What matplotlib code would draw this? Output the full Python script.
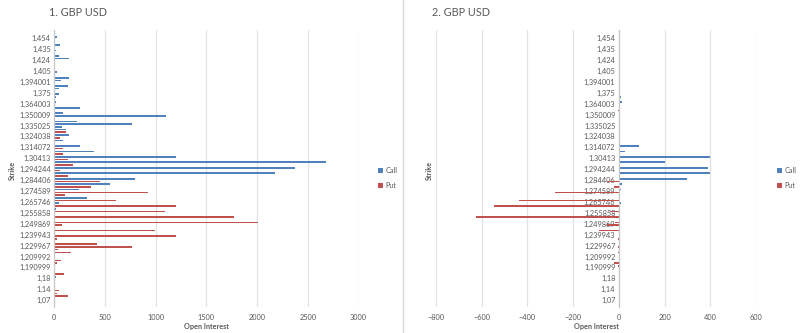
import matplotlib
matplotlib.use('Agg')
import matplotlib.pyplot as plt
from matplotlib.lines import Line2D
import numpy as np

plt.rcParams['font.family'] = ['Lato', 'DejaVu Sans']

# strike labels shown on the category axis (one per group of 4 rows)
strikes = ['1,454', '1,435', '1,424', '1,405', '1,394001', '1,375', '1,364003',
           '1,350009', '1,335025', '1,324038', '1,314072', '1,30413', '1,294244',
           '1,284406', '1,274589', '1,265746', '1,255858', '1,249869', '1,239943',
           '1,229967', '1,209992', '1,190999', '1,18', '1,14', '1,07']

# open interest per row, top to bottom (100 rows)
call_oi = [0, 23, 0, 8, 56, 0, 15, 0, 50, 148,
           5, 0, 0, 0, 23, 0, 148, 63, 0, 135,
           43, 0, 43, 13, 0, 13, 0, 253, 0, 82,
           1100, 0, 220, 763, 72, 112, 0, 142, 0, 88,
           0, 253, 0, 391, 0, 1200, 0, 2680, 0, 2377,
           0, 2180, 0, 793, 0, 548, 0, 243, 0, 0,
           320, 0, 44, 0, 13, 0, 8, 0, 5, 0,
           0, 5, 0, 5, 0, 0, 0, 0, 0, 0,
           0, 5, 0, 0, 0, 0, 5, 0, 0, 13,
           0, 5, 0, 0, 0, 0, 0, 0, 5, 0]
put_oi = [10, 0, 5, 0, 0, 0, 0, 8, 0, 0,
          0, 0, 5, 0, 0, 5, 0, 0, 0, 0,
          0, 0, 0, 0, 5, 0, 5, 0, 5, 0,
          0, 0, 0, 0, 0, 0, 117, 0, 56, 0,
          3, 0, 89, 0, 82, 0, 133, 0, 181, 0,
          59, 0, 133, 0, 450, 0, 360, 0, 925, 105,
          0, 613, 0, 1205, 0, 1095, 0, 1770, 0, 2011,
          75, 0, 998, 0, 1203, 23, 0, 417, 769, 40,
          165, 0, 0, 63, 23, 0, 0, 0, 100, 0,
          0, 0, 5, 0, 50, 23, 138, 5, 0, 0]

# change in open interest per row (second chart)
call_chg = [0, 0, 0, 0, 0, 0, 0, 0, 0, 0,
            0, 0, 0, 0, 0, 0, 0, 0, 0, 0,
            0, 0, 0, 8, 0, 12, 0, 0, 0, 0,
            0, 0, 0, 5, 0, 0, 0, 0, 0, 0,
            0, 89, 0, 26, 0, 400, 0, 200, 0, 390,
            0, 400, 0, 300, 0, 14, 0, 8, 0, 0,
            3, 0, 8, 0, 0, 0, 0, 0, 0, 0,
            0, 0, 0, 3, 0, 0, 0, 0, 0, 0,
            0, 0, 0, 0, 0, 0, 0, 0, 0, 0,
            0, 0, 0, 0, 0, 0, 0, 0, 0, 0]
put_chg = [0, 0, 0, 0, 0, 0, 0, 0, 0, 0,
           0, 0, 0, 0, 0, 0, 0, 0, 0, 0,
           0, 0, 0, 0, 0, 0, 0, 0, -3, 0,
           0, 0, 0, 0, 0, 0, 0, 0, 0, 0,
           0, 0, 0, 0, 0, 0, 0, 0, 0, 0,
           0, 0, 0, 0, -50, 0, -20, 0, -280, 0,
           0, -438, 0, -547, 0, -40, 0, -624, 0, -15,
           -54, 0, -88, 0, 0, -5, 0, 0, -5, 0,
           -5, 0, 0, 0, -20, -5, 0, 0, 0, 0,
           0, 0, 0, 0, 0, 0, 0, 0, 0, 0]

call_color = '#4F81BD'
put_color = '#C0504D'
grid_color = '#E3E3E3'
text_color = '#595959'

W, H = 800, 333
fig = plt.figure(figsize=(8, 3.33), dpi=100)
fig.patch.set_facecolor('white')

rows = np.arange(len(call_oi))
label_pos = np.arange(len(strikes)) * 4 + 1.5


def setup(ax, xmin, xmax, step):
    ax.set_xlim(xmin, xmax)
    ax.set_ylim(99.9, -1.47)
    ax.set_xticks(np.arange(xmin, xmax + 1, step))
    ax.set_yticks(label_pos)
    ax.set_yticklabels(strikes)
    ax.xaxis.grid(True, color=grid_color, lw=0.9)
    ax.set_axisbelow(True)
    for s in ['top', 'right', 'bottom']:
        ax.spines[s].set_visible(False)
    ax.spines['left'].set_color('#C8C8C8')
    ax.spines['left'].set_linewidth(0.9)
    ax.tick_params(axis='both', length=0, labelsize=5.3, labelcolor=text_color)
    ax.tick_params(axis='x', pad=5)
    ax.tick_params(axis='y', pad=2.5)


# left panel
ax1 = fig.add_axes([54.3 / W, 1 - 306.7 / H, (358.5 - 54.3) / W, (306.7 - 30) / H])
ax1.barh(rows, call_oi, height=0.6, color=call_color, label='Call')
ax1.barh(rows, put_oi, height=0.6, color=put_color, label='Put')
setup(ax1, 0, 3000, 500)

# right panel
ax2 = fig.add_axes([436 / W, 1 - 306.7 / H, 320 / W, (306.7 - 30) / H])
ax2.barh(rows, call_chg, height=0.6, color=call_color, label='Call')
ax2.barh(rows, put_chg, height=0.6, color=put_color, label='Put')
setup(ax2, -800, 600, 200)
ax2.spines['left'].set_position(('data', 0))

for ax, x_title, x_strike, x_leg, x_open in [(ax1, 49, 12, 374, 206), (ax2, 432, 429, 773, 596)]:
    fig.text(x_title / W, 1 - 13 / H, ax is ax1 and '1. GBP USD' or '2. GBP USD',
             fontsize=7.8, color=text_color, va='center', ha='left')
    fig.text(x_strike / W, 1 - 170 / H, 'Strike', rotation=90, fontsize=5.2,
             fontweight='bold', color=text_color, va='center', ha='center')
    fig.text(x_open / W, 1 - 326 / H, 'Open Interest', fontsize=5.2,
             fontweight='bold', color=text_color, va='center', ha='center')
    ax.legend(loc='center left', bbox_to_anchor=(x_leg / W, 1 - 178 / H),
              bbox_transform=fig.transFigure, frameon=False, fontsize=5.2,
              handlelength=0.7, handleheight=0.7, handletextpad=0.4,
              labelspacing=1.2, labelcolor=text_color, borderpad=0)

# panel divider
fig.add_artist(Line2D([402.5 / W, 402.5 / W], [0, 1], color='#D9D9D9', lw=1))

fig.savefig('out.png', dpi=100, facecolor='white')
